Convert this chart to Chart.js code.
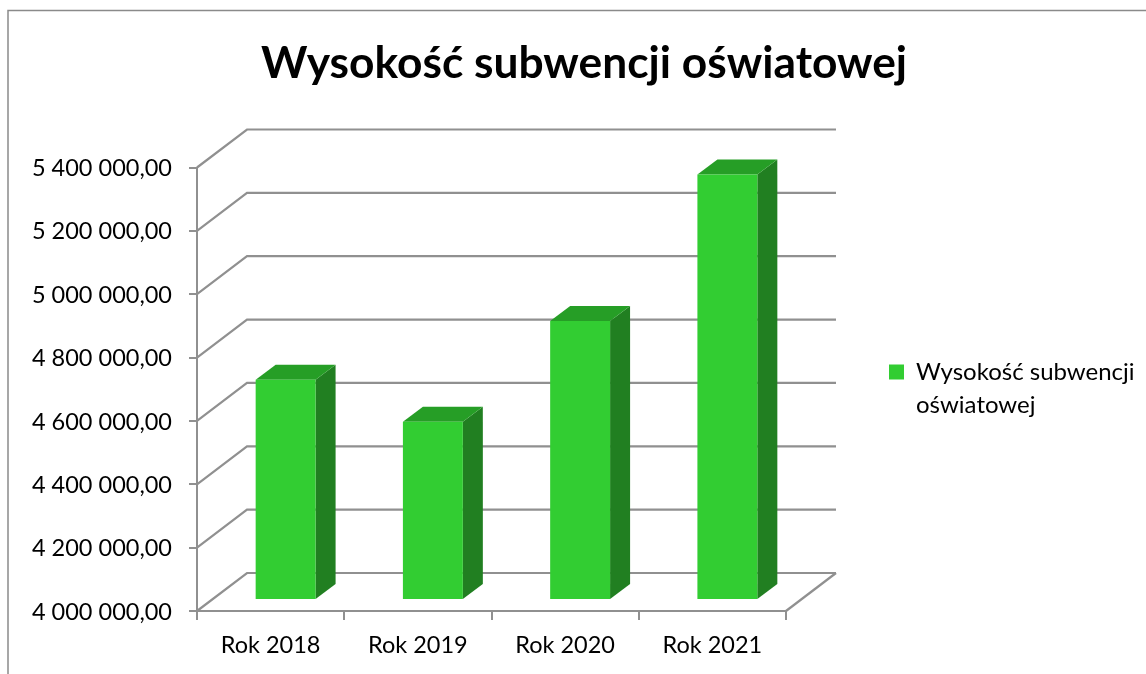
<!DOCTYPE html>
<html lang="pl">
<head>
<meta charset="utf-8">
<title>Wysokość subwencji oświatowej</title>
<script src="https://cdn.jsdelivr.net/npm/chart.js@4"></script>
<style>html,body{margin:0;padding:0;background:#fff;overflow:hidden}canvas{display:block}</style>
</head>
<body>
<canvas id="c" width="1146" height="674"></canvas>
<script>
const chartTitle = 'Wysokość subwencji oświatowej';
const categories = ['Rok 2018', 'Rok 2019', 'Rok 2020', 'Rok 2021'];
const seriesName = 'Wysokość subwencji oświatowej';
const legendLines = ['Wysokość subwencji', 'oświatowej'];
const subwencja = [4695000, 4563000, 4881000, 5343000];
const axisMin = 4000000, axisMax = 5400000, axisStep = 200000;

const FRONT = '#32CD32', TOP = '#269E26', SIDE = '#217F21', GRID = '#909090', FRAME = '#8A8A8A';
const FONT = 'Lato';
const wall = {dx: 50, dy: -38};
const barShift = {dx: 15, dy: -11};
const depth = {dx: 20, dy: -15};

function formatPl(v) {
  return String(Math.round(v)).replace(/\B(?=(\d{3})+$)/g, ' ') + ',00';
}
function poly(ctx, pts, fill) {
  ctx.beginPath();
  pts.forEach((p, i) => i ? ctx.lineTo(p[0], p[1]) : ctx.moveTo(p[0], p[1]));
  ctx.closePath();
  ctx.fillStyle = fill;
  ctx.fill();
}

const scene = {
  id: 'scene',
  beforeLayout(chart) {
    const lg = chart.legend;
    if (lg && !lg._fixedFit) {
      const orig = lg.fit;
      lg.fit = function () { orig.call(this); this.width = 360; };
      lg._fixedFit = true;
    }
  },
  afterLayout(chart) {
    const lg = chart.legend, pad = lg.options.labels.padding;
    lg.left = 889 - pad;
    lg.right = lg.left + 257;
    lg.top = 360 - pad;
    // title is centred over the plot and legend block, not the full canvas
    chart.titleBlock.left = 22;
    // nudge the value labels so they sit level with their tick marks
    chart.scales.y.getLabelItems(chart.chartArea).forEach(i => { i.textOffset += 1; });
  },
  beforeDraw(chart) {
    const ctx = chart.ctx;
    ctx.save();
    ctx.strokeStyle = FRAME;
    ctx.lineWidth = 1.5;
    ctx.strokeRect(8, 10.5, 1200, 800);
    ctx.restore();
  },
  beforeDatasetsDraw(chart) {
    const ctx = chart.ctx, y = chart.scales.y, a = chart.chartArea;
    ctx.save();
    ctx.strokeStyle = GRID;
    ctx.lineWidth = 2.2;
    ctx.lineJoin = 'miter';
    y.ticks.forEach(t => {
      const py = y.getPixelForValue(t.value);
      ctx.beginPath();
      ctx.moveTo(a.left, py);
      ctx.lineTo(a.left + wall.dx, py + wall.dy);
      ctx.lineTo(a.right + wall.dx, py + wall.dy);
      ctx.stroke();
    });
    ctx.beginPath();
    ctx.moveTo(a.right, a.bottom);
    ctx.lineTo(a.right + wall.dx, a.bottom + wall.dy);
    ctx.stroke();
    ctx.restore();
  },
  beforeDatasetDraw(chart, args) {
    const ctx = chart.ctx;
    ctx.save();
    ctx.translate(barShift.dx, barShift.dy);
    args.meta.data.forEach(b => {
      const p = b.getProps(['x', 'y', 'base', 'width'], true);
      const l = p.x - p.width / 2, r = p.x + p.width / 2;
      poly(ctx, [[r, p.y], [r + depth.dx, p.y + depth.dy], [r + depth.dx, p.base + depth.dy], [r, p.base]], SIDE);
      poly(ctx, [[l, p.y], [l + depth.dx, p.y + depth.dy], [r + depth.dx, p.y + depth.dy], [r, p.y]], TOP);
    });
  },
  afterDatasetDraw(chart) {
    chart.ctx.restore();
  }
};

new Chart(document.getElementById('c'), {
  type: 'bar',
  data: {
    labels: categories,
    datasets: [{
      label: seriesName,
      data: subwencja,
      base: axisMin,
      backgroundColor: FRONT,
      borderWidth: 0,
      categoryPercentage: 1,
      barPercentage: 0.407,
      clip: false
    }]
  },
  plugins: [scene],
  options: {
    responsive: false,
    animation: false,
    layout: {padding: 0},
    plugins: {
      tooltip: {enabled: false},
      title: {
        display: true,
        text: chartTitle,
        color: '#000',
        font: {family: FONT, size: 44.3, weight: 'bold', lineHeight: 1.2},
        padding: {top: 37, bottom: 77.34}
      },
      legend: {
        position: 'right',
        align: 'start',
        labels: {
          color: '#000',
          boxWidth: 15,
          boxHeight: 15,
          padding: 10,
          font: {family: FONT, size: 24, lineHeight: 1.375},
          generateLabels: () => [{
            text: legendLines,
            fillStyle: FRONT,
            strokeStyle: FRONT,
            lineWidth: 0,
            datasetIndex: 0
          }]
        }
      }
    },
    scales: {
      x: {
        afterFit(s) { s.height = 63; },
        border: {color: GRID, width: 2},
        grid: {drawOnChartArea: false, drawTicks: true, tickLength: 9, color: GRID, lineWidth: 2, offset: true},
        ticks: {color: '#000', padding: 11, maxRotation: 0, autoSkip: false, font: {family: FONT, size: 23.5}}
      },
      y: {
        min: axisMin,
        max: axisMax,
        afterFit(s) { s.width = 197; },
        border: {color: GRID, width: 2},
        grid: {drawOnChartArea: false, drawTicks: true, tickLength: 8, color: GRID, lineWidth: 2},
        ticks: {stepSize: axisStep, color: '#000', padding: 17, font: {family: FONT, size: 23.5}, callback: v => formatPl(v)}
      }
    }
  }
});
</script>
</body>
</html>
